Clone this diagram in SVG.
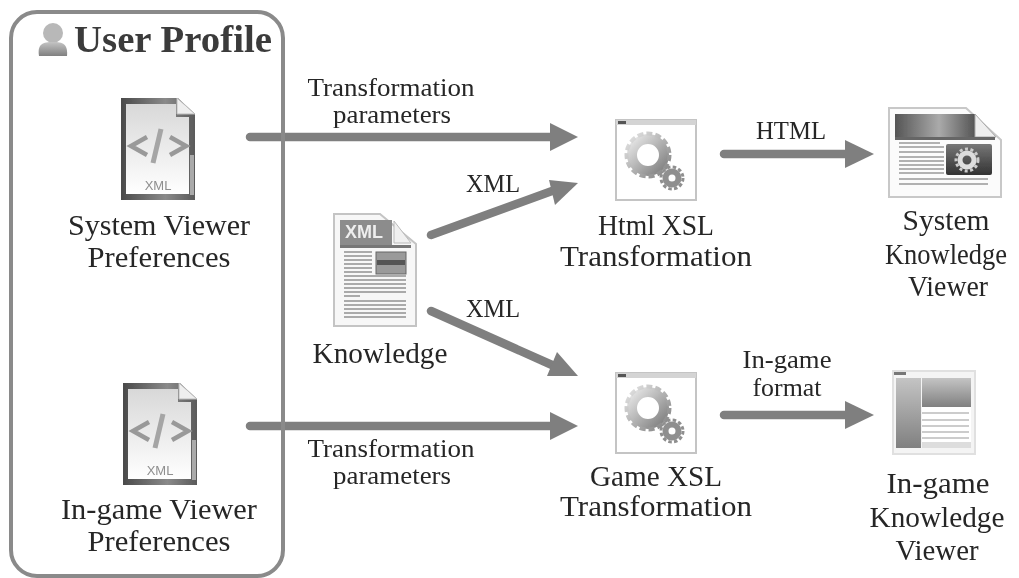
<svg xmlns="http://www.w3.org/2000/svg" xmlns:xlink="http://www.w3.org/1999/xlink" width="1019" height="578" viewBox="0 0 1019 578">
<style>
text{font-family:"Liberation Serif","DejaVu Serif",serif;fill:#262626;text-anchor:middle}
.n{font-size:29.5px}
.l{font-size:25px}
.t{font-size:37px;font-weight:bold;fill:#3a3a3a}
.c{fill:none;stroke:#7f7f7f;stroke-width:8.5;stroke-linecap:round}
.h{fill:#7f7f7f}
.x{font-family:"Liberation Sans",sans-serif;fill:#8f8f8f;font-size:13px}
</style>
<defs>
<filter id="a" filterUnits="userSpaceOnUse" x="0" y="0" width="1019" height="578"><feGaussianBlur stdDeviation="0.45"/></filter>
<filter id="b" x="-5%" y="-5%" width="110%" height="110%"><feGaussianBlur stdDeviation="0.5"/></filter>
<linearGradient id="v" x1="0" y1="0" x2="0" y2="1"><stop offset="0" stop-color="#d8d8d8"/><stop offset="1" stop-color="#ffffff"/></linearGradient>
<linearGradient id="d" x1="0" y1="0" x2="0" y2="1"><stop offset="0" stop-color="#c4c4c4"/><stop offset="1" stop-color="#808080"/></linearGradient>
<linearGradient id="bar" x1="0" y1="0" x2="1" y2="0"><stop offset="0" stop-color="#555"/><stop offset=".55" stop-color="#aaa"/><stop offset="1" stop-color="#555"/></linearGradient>
<linearGradient id="fr" x1="0" y1="0" x2="1" y2="0"><stop offset="0" stop-color="#4a4a4a"/><stop offset=".6" stop-color="#8a8a8a"/><stop offset="1" stop-color="#5a5a5a"/></linearGradient>
<linearGradient id="gr" x1="0" y1="0" x2="1" y2="1"><stop offset="0" stop-color="#e6e6e6"/><stop offset="1" stop-color="#808080"/></linearGradient>
<linearGradient id="ph" x1="0" y1="0" x2="0" y2="1"><stop offset="0" stop-color="#777"/><stop offset="1" stop-color="#333"/></linearGradient>
<g id="doc" filter="url(#b)">
<path d="M1 1H58L75 17V103H1Z" fill="url(#fr)"/>
<path d="M6 7H56V20H69V97H6Z" fill="url(#v)"/>
<path d="M57 1L75 17H57Z" fill="#eee" stroke="#bbb"/>
<rect x="70" y="58" width="4" height="40" fill="#aaa"/>
<path d="M27 40L11 49L27 58M50 40L66 49L50 58" fill="none" stroke="#999" stroke-width="4.5"/>
<path d="M41 32L33 66" fill="none" stroke="#a5a5a5" stroke-width="5"/>
</g>
<g id="gears" filter="url(#b)">
<circle cx="33" cy="33" r="16" fill="none" stroke="url(#gr)" stroke-width="10"/>
<circle cx="33" cy="33" r="21.5" fill="none" stroke="url(#gr)" stroke-width="4" stroke-dasharray="6 3"/>
<circle cx="57" cy="56" r="6.5" fill="none" stroke="#8f8f8f" stroke-width="6"/>
<circle cx="57" cy="56" r="11" fill="none" stroke="#8f8f8f" stroke-width="3" stroke-dasharray="3.5 2.3"/>
</g>
<g id="win" filter="url(#b)">
<rect x="1" y="1" width="80" height="80" fill="#fff" stroke="#c4c4c4" stroke-width="2"/>
<rect x="1" y="1" width="80" height="5" fill="#d4d4d4"/>
<rect x="3" y="2" width="8" height="3" fill="#555"/>
<use xlink:href="#gears" x="0" y="3"/>
</g>
</defs>
<rect width="1019" height="578" fill="#fff"/>
<g filter="url(#a)">
<g id="connectors">
<path class="c" d="M250 137H552"/><path class="h" d="M550 123L578 137L550 151Z"/>
<path class="c" d="M431 235L552 191"/><path class="h" d="M549 180L578 183L555 205Z"/>
<path class="c" d="M431 311L552 365"/><path class="h" d="M557 352L578 376L547 376Z"/>
<path class="c" d="M250 426H552"/><path class="h" d="M550 412L578 426L550 440Z"/>
<path class="c" d="M724 154H848"/><path class="h" d="M845 140L874 154L845 168Z"/>
<path class="c" d="M724 415H848"/><path class="h" d="M845 401L874 415L845 429Z"/>
<text class="l" x="391" y="96" textLength="167" lengthAdjust="spacingAndGlyphs">Transformation</text>
<text class="l" x="392" y="123" textLength="118" lengthAdjust="spacingAndGlyphs">parameters</text>
<text class="l" x="493" y="192" textLength="54" lengthAdjust="spacingAndGlyphs">XML</text>
<text class="l" x="493" y="317" textLength="54" lengthAdjust="spacingAndGlyphs">XML</text>
<text class="l" x="391" y="457" textLength="167" lengthAdjust="spacingAndGlyphs">Transformation</text>
<text class="l" x="392" y="484" textLength="118" lengthAdjust="spacingAndGlyphs">parameters</text>
<text class="l" x="791" y="139" textLength="70" lengthAdjust="spacingAndGlyphs">HTML</text>
<text class="l" x="787" y="368" textLength="89" lengthAdjust="spacingAndGlyphs">In-game</text>
<text class="l" x="787" y="396" textLength="69" lengthAdjust="spacingAndGlyphs">format</text>
</g>
<g id="user-profile">
<rect x="11" y="12" width="272" height="564" rx="26" fill="none" stroke="#8a8a8a" stroke-width="4"/>
<g filter="url(#b)"><circle cx="53" cy="33" r="10" fill="#b8b8b8"/><path d="M39 56C37 44 43 42 53 42C63 42 68 44 67 56Z" fill="url(#d)"/></g>
<text class="t" x="173" y="52" textLength="198" lengthAdjust="spacingAndGlyphs">User Profile</text>
</g>
<g id="system-viewer-preferences">
<use xlink:href="#doc" x="120" y="97"/>
<text class="x" x="158" y="190">XML</text>
<text class="n" x="159" y="235" textLength="182" lengthAdjust="spacingAndGlyphs">System Viewer</text>
<text class="n" x="159" y="267" textLength="143" lengthAdjust="spacingAndGlyphs">Preferences</text>
</g>
<g id="ingame-viewer-preferences">
<use xlink:href="#doc" x="122" y="382"/>
<text class="x" x="160" y="475">XML</text>
<text class="n" x="159" y="519" textLength="196" lengthAdjust="spacingAndGlyphs">In-game Viewer</text>
<text class="n" x="159" y="551" textLength="143" lengthAdjust="spacingAndGlyphs">Preferences</text>
</g>
<g id="knowledge">
<g filter="url(#b)">
<path d="M334 214H380L416 244V326H334Z" fill="#f7f7f7" stroke="#c4c4c4" stroke-width="2"/>
<rect x="340" y="220" width="52" height="25" fill="#8c8c8c"/>
<rect x="340" y="245" width="71" height="3" fill="#777"/>
<path d="M394 221L411 243H394Z" fill="#f0f0f0" stroke="#bbb"/>
<g stroke="#aaa" stroke-width="2">
<path d="M344 252H372M344 256H372M344 260H372M344 264H372M344 268H372M344 272H372"/>
<path d="M344 276H406M344 280H406M344 284H406M344 288H406M344 292H406M344 296H360"/>
<path d="M344 301H406M344 305H406M344 309H406M344 313H406M344 317H406"/>
</g>
<rect x="376" y="252" width="30" height="22" fill="#9a9a9a" stroke="#666"/>
<rect x="377" y="260" width="28" height="5" fill="#555"/>
</g>
<text class="x" x="364" y="238" style="fill:#eee;font-weight:bold;font-size:18px">XML</text>
<text class="n" x="380" y="363" textLength="135" lengthAdjust="spacingAndGlyphs">Knowledge</text>
</g>
<g id="html-xsl">
<use xlink:href="#win" x="615" y="119"/>
<text class="n" x="656" y="235" textLength="116" lengthAdjust="spacingAndGlyphs">Html XSL</text>
<text class="n" x="656" y="266" textLength="192" lengthAdjust="spacingAndGlyphs">Transformation</text>
</g>
<g id="game-xsl">
<use xlink:href="#win" x="615" y="372"/>
<text class="n" x="656" y="486" textLength="132" lengthAdjust="spacingAndGlyphs">Game XSL</text>
<text class="n" x="656" y="516" textLength="192" lengthAdjust="spacingAndGlyphs">Transformation</text>
</g>
<g id="system-knowledge-viewer">
<g filter="url(#b)">
<path d="M889 108H966L1001 140V197H889Z" fill="#fbfbfb" stroke="#c8c8c8" stroke-width="2"/>
<path d="M895 114H975V137H895Z" fill="url(#bar)"/>
<path d="M975 114L996 137H975Z" fill="#eee" stroke="#aaa"/>
<rect x="895" y="137" width="100" height="3" fill="#666"/>
<g stroke="#999" stroke-width="1.6"><path d="M899 143H940M899 147H944M899 152H944M899 157H944M899 161H944M899 165H944M899 169H944M899 173H944M899 179H988M899 184H988"/></g>
<rect x="946" y="144" width="46" height="31" rx="2" fill="url(#ph)"/>
<circle cx="967" cy="160" r="7" fill="none" stroke="#ddd" stroke-width="5"/>
<circle cx="967" cy="160" r="11" fill="none" stroke="#ccc" stroke-width="3" stroke-dasharray="3 2.5"/>
</g>
<text class="n" x="946" y="230" textLength="87" lengthAdjust="spacingAndGlyphs">System</text>
<text class="n" x="946" y="264" textLength="122" lengthAdjust="spacingAndGlyphs">Knowledge</text>
<text class="n" x="948" y="296" textLength="80" lengthAdjust="spacingAndGlyphs">Viewer</text>
</g>
<g id="ingame-knowledge-viewer">
<g filter="url(#b)">
<rect x="893" y="371" width="82" height="83" fill="#f4f4f4" stroke="#e0e0e0" stroke-width="2"/>
<rect x="894" y="372" width="12" height="3" fill="#777"/>
<rect x="896" y="378" width="25" height="70" fill="url(#d)"/>
<rect x="922" y="378" width="49" height="29" fill="url(#d)"/>
<rect x="922" y="407" width="49" height="41" fill="#fff"/>
<path d="M922 413H969M922 420H969M922 426H969M922 432H969M922 438H969" stroke="#ccc" stroke-width="2"/>
<rect x="922" y="442" width="49" height="6" fill="#ddd"/>
</g>
<text class="n" x="938" y="493" textLength="103" lengthAdjust="spacingAndGlyphs">In-game</text>
<text class="n" x="937" y="527" textLength="135" lengthAdjust="spacingAndGlyphs">Knowledge</text>
<text class="n" x="937" y="560" textLength="83" lengthAdjust="spacingAndGlyphs">Viewer</text>
</g>
</g>
</svg>
